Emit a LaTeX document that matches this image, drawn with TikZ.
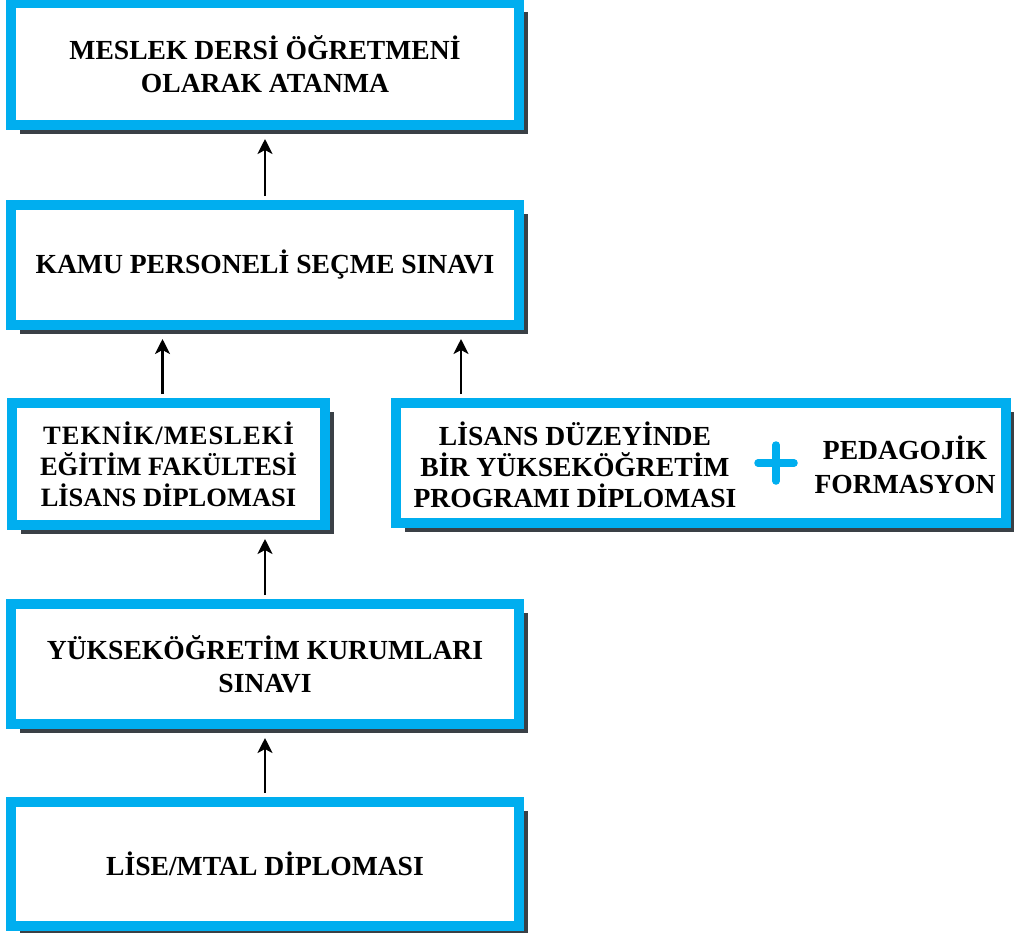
\documentclass[tikz,border=0pt]{standalone}
\usepackage{fontspec}
\setmainfont{Liberation Serif}
\usetikzlibrary{arrows.meta,shadows}
\definecolor{frame}{HTML}{00AEEF}
\definecolor{shade}{HTML}{3A4046}

\begin{document}
\begin{tikzpicture}[x=1pt,y=-1pt,
  box/.style={draw=frame, line width=10pt, fill=white, inner sep=0pt,
    align=center, font=\fontsize{27.6}{33}\selectfont\bfseries,
    drop shadow={shadow xshift=9pt, shadow yshift=-9pt, fill=shade, opacity=1}},
  txt/.style={inner sep=0pt, align=center, font=\fontsize{27.6}{31}\selectfont\bfseries},
  arr/.style={line width=2.5pt, -{Stealth[length=15pt,width=15pt,inset=4pt]},
    shorten >=9pt, shorten <=4pt},
  plusbar/.style={draw=frame, line width=7.5pt, line cap=round}]

\useasboundingbox (0,0) rectangle (1014,932);

% stages of the path
\node[box, minimum width=508pt, minimum height=122pt] (b1) at (265,64)
  {MESLEK DERSİ ÖĞRETMENİ\\OLARAK ATANMA};
\node[box, minimum width=508pt, minimum height=120pt] (b2) at (265,265)
  {KAMU PERSONELİ SEÇME SINAVI};
\node[box, minimum width=313pt, minimum height=122pt,
      font=\fontsize{26.5}{31}\selectfont\bfseries] (b3) at (168.5,464)
  {{\addfontfeature{LetterSpace=4}TEKNİK/MESLEKİ}\\EĞİTİM FAKÜLTESİ\\LİSANS DİPLOMASI};
\node[box, minimum width=610pt, minimum height=120pt] (b4) at (701,463) {};
\node[box, minimum width=508pt, minimum height=120pt] (b5) at (265,664)
  {YÜKSEKÖĞRETİM KURUMLARI\\SINAVI};
\node[box, minimum width=508pt, minimum height=124pt] (b6) at (265,864)
  {LİSE/MTAL DİPLOMASI};

% contents of the combined box
\node[txt] (t4a) at (575,465) {LİSANS DÜZEYİNDE\\BİR YÜKSEKÖĞRETİM\\PROGRAMI DİPLOMASI};
\node[txt, font=\fontsize{27.6}{34}\selectfont\bfseries] (t4b) at (905,465) {PEDAGOJİK\\FORMASYON};
\coordinate (pc) at (776,463);
\draw[plusbar] ([xshift=-18pt]pc) -- ([xshift=18pt]pc);
\draw[plusbar] ([yshift=-18pt]pc) -- ([yshift=18pt]pc);

% connectors
\draw[arr] (b2.north) -- (b1.south);
\draw[arr] ([xshift=-6pt]b3.north) -- ([xshift=-6pt]b3.north |- b2.south);
\draw[arr] ([xshift=-240pt]b4.north) -- ([xshift=-240pt]b4.north |- b2.south);
\draw[arr] (b5.north) -- (b5.north |- b3.south);
\draw[arr] (b6.north) -- (b5.south);
\end{tikzpicture}
\end{document}
